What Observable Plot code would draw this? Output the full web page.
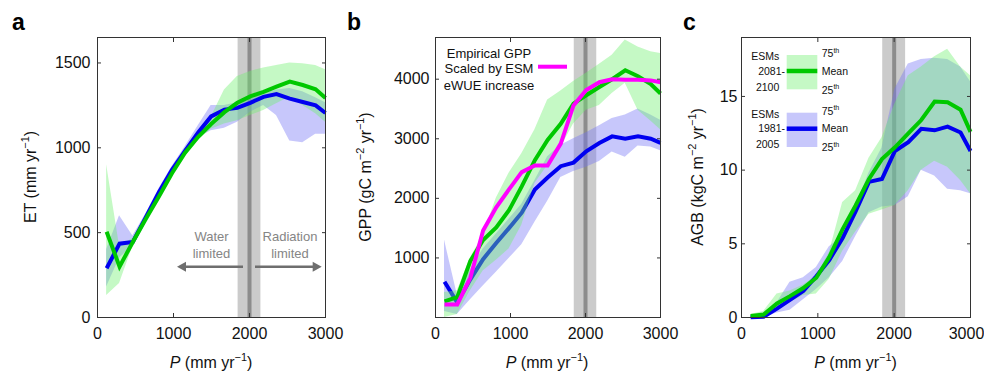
<!DOCTYPE html>
<html><head><meta charset="utf-8">
<script src="https://cdn.jsdelivr.net/npm/d3@7"></script>
<script src="https://cdn.jsdelivr.net/npm/@observablehq/plot@0.6"></script>
<style>
body{margin:0;background:#fff}
#wrap{position:relative;width:984px;height:372px;overflow:hidden;background:#fff}
#wrap svg{position:absolute;top:0}
</style></head><body><div id="wrap"></div>
<script>
// ---------- data ----------
const P = [120, 290, 465, 635, 810, 980, 1150, 1325, 1495, 1670, 1840, 2010, 2185, 2355, 2530, 2700, 2870, 3000];
const xTicks = [0, 1000, 2000, 3000];
const etTicks = [0, 500, 1000, 1500];
const gppTicks = [1000, 2000, 3000, 4000];
const agbTicks = [0, 5, 10, 15];
const transitionRange = [1850, 2150];
const transitionP = [2000];

// ET (mm/yr)
const etHistMean = [290, 435, 445, 590, 740, 870, 980, 1090, 1185, 1225, 1235, 1265, 1300, 1317, 1290, 1270, 1250, 1205];
const etHistLo   = [180, 350, 420, 565, 715, 845, 955, 1060, 1100, 1115, 1150, 1210, 1250, 1190, 1040, 1030, 1080, 1080];
const etHistHi   = [400, 600, 480, 610, 760, 890, 1005, 1130, 1250, 1250, 1265, 1290, 1320, 1340, 1350, 1330, 1295, 1265];
const etFutMean  = [505, 300, 445, 580, 715, 850, 970, 1065, 1140, 1210, 1265, 1303, 1330, 1360, 1390, 1370, 1345, 1293];
const etFutLo    = [130, 200, 420, 560, 695, 830, 950, 1045, 1110, 1140, 1160, 1190, 1220, 1260, 1300, 1250, 1200, 1150];
const etFutHi    = [900, 420, 465, 600, 735, 870, 990, 1090, 1180, 1340, 1420, 1450, 1470, 1485, 1500, 1495, 1485, 1460];

// GPP (gC m-2 yr-1)
const gppHistMean = [600, 250, 640, 980, 1250, 1500, 1760, 2150, 2350, 2540, 2600, 2790, 2930, 3040, 3000, 3040, 3000, 2930];
const gppHistLo   = [100, 50, 300, 530, 760, 990, 1220, 1600, 1950, 2350, 2450, 2520, 2620, 2780, 2690, 2880, 2860, 2800];
const gppHistHi   = [1300, 380, 800, 1150, 1400, 1650, 1900, 2300, 2700, 2890, 3000, 3100, 3220, 3340, 3400, 3500, 3400, 3310];
const gppFutMean  = [270, 340, 950, 1300, 1510, 1800, 2200, 2640, 2980, 3250, 3590, 3730, 3870, 4000, 4150, 4050, 3920, 3760];
const gppFutLo    = [0, 50, 450, 780, 960, 1150, 1550, 2250, 2550, 2850, 3250, 3480, 3560, 3760, 3930, 3480, 3300, 3150];
const gppFutHi    = [420, 450, 1000, 1380, 2000, 2420, 2750, 3150, 3650, 3800, 3960, 4100, 4250, 4400, 4660, 4540, 4460, 4430];
const gppEmpirical = [220, 220, 670, 1460, 1850, 2150, 2440, 2550, 2550, 2920, 3560, 3820, 3950, 4000, 3990, 3990, 3980, 3950];

// AGB (kgC m-2)
const agbHistMean = [0.02, 0.05, 0.6, 1.2, 1.8, 2.8, 3.9, 5.4, 7.2, 9.2, 9.4, 11.3, 11.9, 12.8, 12.7, 12.95, 12.55, 11.3];
const agbHistLo   = [0, 0, 0.3, 0.5, 1.2, 1.9, 2.7, 3.8, 5.5, 7.1, 7.5, 7.6, 8.2, 10.0, 9.6, 8.7, 8.6, 8.4];
const agbHistHi   = [0.1, 0.2, 1.0, 2.4, 2.7, 3.4, 4.8, 5.5, 7.5, 9.8, 11.5, 15.5, 17.2, 17.5, 17.6, 17.5, 17.0, 16.0];
const agbFutMean  = [0.1, 0.2, 0.95, 1.45, 2.0, 2.7, 4.1, 6.0, 7.6, 9.4, 10.75, 11.55, 12.5, 13.4, 14.65, 14.6, 14.1, 12.6];
const agbFutLo    = [0, 0.1, 0.5, 1.0, 1.5, 1.6, 2.6, 4.5, 5.8, 7.0, 7.3, 7.6, 8.6, 10.0, 10.6, 10.2, 9.3, 8.4];
const agbFutHi    = [0.2, 0.4, 1.6, 1.8, 2.2, 2.8, 4.4, 7.8, 8.6, 10.8, 12.2, 14.5, 16.4, 17.0, 17.7, 18.2, 17.0, 16.4];

// ---------- styling ----------
const FONT = '"Liberation Sans", Arial, Helvetica, sans-serif';
const GREEN = "#00c800", BLUE = "#0000f0", MAGENTA = "#ff00ff";
const GREEN_FILL = "#6fef6f", BLUE_FILL = "#7373f5", FILL_OP = 0.4;
const TICK_COLOR = "#333";
const plain = d => String(d);
const wrap = document.getElementById("wrap");

function table(mean, lo, hi) {
  return P.map((p, i) => ({p, mean: mean[i], lo: lo[i], hi: hi[i]}));
}

function richText(sel, {x, y, anchor = "start", size = 16, weight = "normal", fill = "#111", rotate = 0, parts}) {
  const t = sel.append("text")
    .attr("transform", `translate(${x},${y}) rotate(${rotate})`)
    .attr("text-anchor", anchor)
    .attr("font-family", FONT)
    .attr("font-size", size)
    .attr("font-weight", weight)
    .attr("fill", fill);
  let raised = false;
  for (const part of parts) {
    const s = t.append("tspan").text(part.t);
    if (part.it) s.attr("font-style", "italic");
    if (part.sup) {
      s.attr("font-size", size * 0.68).attr("dy", -size * 0.42);
      raised = true;
    } else if (raised) {
      s.attr("dy", size * 0.42);
      raised = false;
    }
  }
  return t;
}

function lineMark(rows, stroke) {
  return Plot.lineY(rows, {x: "p", y: "mean", stroke, strokeWidth: 4, strokeLinejoin: "miter", strokeMiterlimit: 4, strokeLinecap: "butt"});
}
function areaMark(rows, fill) {
  return Plot.areaY(rows, {x: "p", y1: "lo", y2: "hi", fill, fillOpacity: FILL_OP});
}

function panel({left, width, mL, mR, yDomain, yTicks, yPad, lastDx = 0, marks}) {
  const firstTicks = xTicks.slice(0, -1), lastTick = xTicks.slice(-1);
  const chart = Plot.plot({
    width, height: 372,
    marginLeft: mL, marginRight: mR, marginTop: 37, marginBottom: 55,
    style: {fontFamily: FONT, fontSize: "16px", color: "#111", background: "transparent", overflow: "visible"},
    x: {domain: [0, 3000]},
    y: {domain: yDomain},
    marks: [
      Plot.rect([transitionRange], {x1: d => d[0], x2: d => d[1], fill: "#cbcbcb"}),
      Plot.ruleX(transitionP, {stroke: "#8c8c8c", strokeWidth: 4}),
      ...marks,
      Plot.axisX(firstTicks, {anchor: "bottom", tickSize: 0, tickPadding: 10, tickFormat: plain, label: null, fontSize: 16}),
      Plot.axisX(lastTick, {anchor: "bottom", tickSize: 0, tickPadding: 10, tickFormat: plain, label: null, fontSize: 16, dx: lastDx}),
      Plot.axisX(xTicks, {anchor: "bottom", tickSize: -4, tickFormat: () => "", label: null, stroke: TICK_COLOR}),
      Plot.axisX(xTicks, {anchor: "top", tickSize: -4, tickFormat: () => "", label: null, stroke: TICK_COLOR}),
      Plot.axisY(yTicks, {anchor: "left", tickSize: 0, tickPadding: yPad, tickFormat: plain, label: null, fontSize: 16}),
      Plot.axisY(yTicks, {anchor: "left", tickSize: -4, tickFormat: () => "", label: null, stroke: TICK_COLOR}),
      Plot.axisY(yTicks, {anchor: "right", tickSize: -4, tickFormat: () => "", label: null, stroke: TICK_COLOR}),
      Plot.frame({stroke: TICK_COLOR, strokeWidth: 1})
    ]
  });
  chart.style.left = left + "px";
  wrap.append(chart);
  return d3.select(chart);
}

function xLabel(svg, cx) {
  richText(svg, {x: cx, y: 368, anchor: "middle", parts: [{t: "P", it: true}, {t: " (mm yr"}, {t: "−1", sup: true}, {t: ")"}]});
}

// ---------- panel a ----------
const etHist = table(etHistMean, etHistLo, etHistHi);
const etFut = table(etFutMean, etFutLo, etFutHi);
const svgA = panel({
  left: 0, width: 330, mL: 97, mR: 5, yDomain: [0, 1650], yTicks: etTicks, yPad: 7,
  marks: [areaMark(etHist, BLUE_FILL), areaMark(etFut, GREEN_FILL), lineMark(etHist, BLUE), lineMark(etFut, GREEN)]
});
richText(svgA, {x: 12, y: 30, size: 23, weight: "bold", fill: "#000", parts: [{t: "a"}]});
richText(svgA, {x: 36, y: 177, rotate: -90, anchor: "middle", parts: [{t: "ET (mm yr"}, {t: "−1", sup: true}, {t: ")"}]});
xLabel(svgA, 211);
// regime annotations
const annoGrey = "#6e6e6e";
richText(svgA, {x: 211.5, y: 241, anchor: "middle", size: 13, fill: "#858585", parts: [{t: "Water"}]});
richText(svgA, {x: 211.5, y: 258, anchor: "middle", size: 13, fill: "#858585", parts: [{t: "limited"}]});
richText(svgA, {x: 290, y: 241, anchor: "middle", size: 13, fill: "#858585", parts: [{t: "Radiation"}]});
richText(svgA, {x: 290, y: 258, anchor: "middle", size: 13, fill: "#858585", parts: [{t: "limited"}]});
svgA.append("line").attr("x1", 243).attr("x2", 184).attr("y1", 266.7).attr("y2", 266.7).attr("stroke", annoGrey).attr("stroke-width", 2.5);
svgA.append("path").attr("d", "M177,266.7L186,261.7L186,271.7Z").attr("fill", annoGrey);
svgA.append("line").attr("x1", 255).attr("x2", 314).attr("y1", 266.7).attr("y2", 266.7).attr("stroke", annoGrey).attr("stroke-width", 2.5);
svgA.append("path").attr("d", "M321.7,266.7L312.7,261.7L312.7,271.7Z").attr("fill", annoGrey);

// ---------- panel b ----------
const gppHist = table(gppHistMean, gppHistLo, gppHistHi);
const gppFut = table(gppFutMean, gppFutLo, gppFutHi);
const gppEmp = P.map((p, i) => ({p, mean: gppEmpirical[i]}));
const svgB = panel({
  left: 330, width: 333, mL: 105, mR: 3, yDomain: [0, 4700], yTicks: gppTicks, yPad: 6,
  marks: [areaMark(gppHist, BLUE_FILL), lineMark(gppHist, BLUE), areaMark(gppFut, GREEN_FILL), lineMark(gppFut, GREEN), lineMark(gppEmp, MAGENTA)]
});
richText(svgB, {x: 17, y: 30, size: 23, weight: "bold", fill: "#000", parts: [{t: "b"}]});
richText(svgB, {x: 41, y: 177, rotate: -90, anchor: "middle", parts: [{t: "GPP (gC m"}, {t: "−2", sup: true}, {t: " yr"}, {t: "−1", sup: true}, {t: ")"}]});
xLabel(svgB, 217);
richText(svgB, {x: 159, y: 58, anchor: "middle", size: 13, fill: "#111", parts: [{t: "Empirical GPP"}]});
richText(svgB, {x: 159, y: 73, anchor: "middle", size: 13, fill: "#111", parts: [{t: "Scaled by ESM"}]});
richText(svgB, {x: 159, y: 89.5, anchor: "middle", size: 13, fill: "#111", parts: [{t: "eWUE increase"}]});
svgB.append("line").attr("x1", 208).attr("x2", 237).attr("y1", 66.7).attr("y2", 66.7).attr("stroke", MAGENTA).attr("stroke-width", 4);

// ---------- panel c ----------
const agbHist = table(agbHistMean, agbHistLo, agbHistHi);
const agbFut = table(agbFutMean, agbFutLo, agbFutHi);
const svgC = panel({
  left: 663, width: 321, mL: 78, mR: 14, yDomain: [0, 19], yTicks: agbTicks, yPad: 4, lastDx: -4,
  marks: [areaMark(agbHist, BLUE_FILL), areaMark(agbFut, GREEN_FILL), lineMark(agbHist, BLUE), lineMark(agbFut, GREEN)]
});
richText(svgC, {x: 20, y: 30, size: 23, weight: "bold", fill: "#000", parts: [{t: "c"}]});
richText(svgC, {x: 39.5, y: 177, rotate: -90, anchor: "middle", parts: [{t: "AGB (kgC m"}, {t: "−2", sup: true}, {t: " yr"}, {t: "−1", sup: true}, {t: ")"}]});
xLabel(svgC, 192.5);

function legendGroup(svg, top, fill, stroke, label1, label2) {
  const mid = top + 16;
  svg.append("rect").attr("x", 123.7).attr("y", top).attr("width", 30.6).attr("height", 34.3).attr("fill", fill).attr("fill-opacity", FILL_OP);
  svg.append("line").attr("x1", 123.7).attr("x2", 154.3).attr("y1", mid).attr("y2", mid).attr("stroke", stroke).attr("stroke-width", 4.5);
  const s = 10.5;
  richText(svg, {x: 116.3, y: mid - 14.5 + 3.7, anchor: "end", size: s, parts: [{t: "ESMs"}]});
  richText(svg, {x: 122, y: mid + 3.7, anchor: "end", size: s, parts: [{t: label1}]});
  richText(svg, {x: 116.3, y: mid + 16 + 3.7, anchor: "end", size: s, parts: [{t: label2}]});
  richText(svg, {x: 158.7, y: mid - 17.5 + 3.7, size: s, parts: [{t: "75"}, {t: "th", sup: true}]});
  richText(svg, {x: 158.7, y: mid + 3.7, size: s, parts: [{t: "Mean"}]});
  richText(svg, {x: 158.7, y: mid + 19 + 3.7, size: s, parts: [{t: "25"}, {t: "th", sup: true}]});
}
legendGroup(svgC, 55, GREEN_FILL, GREEN, "2081-", "2100");
legendGroup(svgC, 112.7, BLUE_FILL, BLUE, "1981-", "2005");
</script>
</body></html>
